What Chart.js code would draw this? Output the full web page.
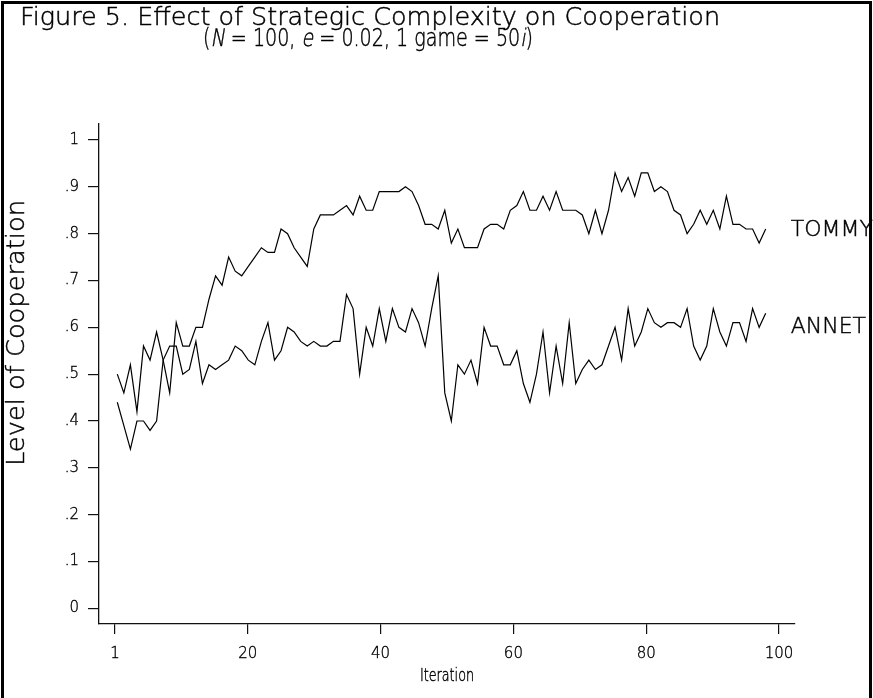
<!DOCTYPE html>
<html>
<head>
<meta charset="utf-8">
<title>Figure 5. Effect of Strategic Complexity on Cooperation</title>
<script src="https://cdn.jsdelivr.net/npm/chart.js@4.4.1/dist/chart.umd.min.js"></script>
<style>
  html, body { margin: 0; padding: 0; background: #fff; }
  #wrap { width: 873px; height: 698px; }
</style>
</head>
<body>
<div id="wrap"><canvas id="myChart" width="873" height="698"></canvas></div>
<script>
// iteration number of every point (1..100)
const iterations = Array.from({ length: 100 }, (_, i) => i + 1)

const tommy = [
  .50, .46, .52, .42, .56, .53, .59, .53, .46, .61,
  .56, .56, .60, .60, .66, .71, .69, .75, .72, .71,
  .73, .75, .77, .76, .76, .81, .80, .77, .75, .73,
  .81, .84, .84, .84, .85, .86, .84, .88, .85, .85,
  .89, .89, .89, .89, .90, .89, .86, .82, .82, .81,
  .85, .78, .81, .77, .77, .77, .81, .82, .82, .81,
  .85, .86, .89, .85, .85, .88, .85, .89, .85, .85,
  .85, .84, .80, .85, .80, .85, .93, .89, .92, .88,
  .93, .93, .89, .90, .89, .85, .84, .80, .82, .85,
  .82, .85, .81, .88, .82, .82, .81, .81, .78, .81
]

const annet = [
  .44, .39, .34, .40, .40, .38, .40, .53, .56, .56,
  .50, .51, .57, .48, .52, .51, .52, .53, .56, .55,
  .53, .52, .57, .61, .53, .55, .60, .59, .57, .56,
  .57, .56, .56, .57, .57, .67, .64, .50, .60, .56,
  .64, .57, .64, .60, .59, .64, .61, .56, .64, .71,
  .46, .40, .52, .50, .53, .48, .60, .56, .56, .52,
  .52, .55, .48, .44, .50, .59, .46, .56, .48, .61,
  .48, .51, .53, .51, .52, .56, .60, .53, .64, .56,
  .59, .64, .61, .60, .61, .61, .60, .64, .56, .53,
  .56, .64, .59, .56, .61, .61, .57, .64, .60, .63
]

const seriesNames = ['TOMMY', 'ANNET']

// x axis: equally spaced ticks, the first one printed as "1"
const xTickValues = [0, 20, 40, 60, 80, 100]
const xTickLabels = ['1', '20', '40', '60', '80', '100']
const yTickValues = [0, .1, .2, .3, .4, .5, .6, .7, .8, .9, 1]
const yTickLabels = ['0', '.1', '.2', '.3', '.4', '.5', '.6', '.7', '.8', '.9', '1']

const FONT = "'DejaVu Sans', 'Noto Sans', sans-serif"

const titleLine1 = [['Figure 5. Effect of Strategic Complexity on Cooperation', false]]
const titleLine2 = [['(', false], ['N', true], [' = 100, ', false], ['e', true],
  [' = 0.02, 1 game = 50', false], ['i', true], [')', false]]

// draws text pieces centred on cx, squeezed/stretched to the wanted width;
// italic pieces are slanted by hand so they keep the light weight
function drawRuns(ctx, runs, cx, y, size, width) {
  ctx.font = '200 ' + size + 'px ' + FONT
  let total = 0
  runs.forEach(r => { total += ctx.measureText(r[0]).width })
  const k = width / total
  ctx.save()
  ctx.translate(cx - width / 2, y)
  ctx.scale(k, 1)
  let x = 0
  runs.forEach(r => {
    ctx.save()
    if (r[1]) ctx.transform(1, 0, -0.21, 1, x, 0)
    else ctx.translate(x, 0)
    ctx.fillText(r[0], 0, 0)
    ctx.strokeText(r[0], 0, 0)
    ctx.restore()
    x += ctx.measureText(r[0]).width
  })
  ctx.restore()
}

const decorations = {
  id: 'decorations',
  afterDraw(chart, args, opts) {
    const ctx = chart.ctx
    const xs = chart.scales.x
    ctx.save()
    ctx.strokeStyle = '#000'
    ctx.lineWidth = 3
    ctx.strokeRect(2.5, 2.5, chart.width - 5, chart.height + 10)

    ctx.fillStyle = '#000'
    ctx.lineWidth = 0.45
    ctx.textAlign = 'left'
    ctx.textBaseline = 'alphabetic'
    drawRuns(ctx, titleLine1, 370, 25, 24, 700)
    drawRuns(ctx, titleLine2, 368, 46, 24, 330)

    // x axis title
    drawRuns(ctx, [['Iteration', false]], (xs.left + xs.right) / 2, 681, 17, 54)

    // y axis title, not centred on the axis in the original
    ctx.save()
    ctx.translate(18, 333)
    ctx.rotate(-Math.PI / 2)
    ctx.textBaseline = 'middle'
    drawRuns(ctx, [['Level of Cooperation', false]], 0, 0, 24, 266)
    ctx.restore()

    // series names at the right end of the lines
    const xd = chart.scales.xd
    const ys = chart.scales.y
    const lastX = xd.getPixelForValue(iterations[iterations.length - 1])
    ctx.font = '200 22px ' + FONT
    ctx.textBaseline = 'middle'
    opts.labels.forEach((lab, i) => {
      const y = ys.getPixelForValue(lab)
      ctx.fillText(seriesNames[i], lastX + 25, y)
      ctx.strokeText(seriesNames[i], lastX + 25, y)
    })
    ctx.restore()
  }
}

const lineStyle = {
  borderColor: '#000',
  borderWidth: 1.2,
  pointRadius: 0,
  tension: 0,
  fill: false,
  xAxisID: 'xd',
  yAxisID: 'y'
}

const data = {
  datasets: [
    Object.assign({ label: seriesNames[0], data: iterations.map((it, i) => ({ x: it, y: tommy[i] })) }, lineStyle),
    Object.assign({ label: seriesNames[1], data: iterations.map((it, i) => ({ x: it, y: annet[i] })) }, lineStyle)
  ]
}

const axisColor = '#111'

let myChart = new Chart(document.getElementById('myChart').getContext('2d'), {
  type: 'line',
  data: data,
  plugins: [decorations],
  options: {
    responsive: false,
    animation: false,
    layout: { padding: { left: 0, right: 78, top: 124, bottom: 0 } },
    plugins: {
      legend: { display: false },
      tooltip: { enabled: false },
      decorations: { labels: [0.807, 0.60] }
    },
    scales: {
      // scale that places the points (iteration 1 .. 100)
      xd: {
        type: 'linear',
        display: false,
        min: -1.794,
        max: 104.474
      },
      x: {
        type: 'linear',
        position: 'bottom',
        min: -2.41,
        max: 102.41,
        afterBuildTicks: s => { s.ticks = xTickValues.map(v => ({ value: v })) },
        afterFit: s => { s.height = 74 },
        ticks: {
          color: '#000',
          textStrokeColor: '#000',
          textStrokeWidth: 0.35,
          padding: 11,
          maxRotation: 0,
          autoSkip: false,
          font: { family: FONT, size: 15, weight: 200 },
          callback: (v) => xTickLabels[xTickValues.indexOf(v)]
        },
        grid: { drawOnChartArea: false, drawTicks: true, tickLength: 10, color: axisColor, lineWidth: 1.2 },
        border: { display: true, color: axisColor, width: 1.3 }
      },
      y: {
        type: 'linear',
        min: -0.0335,
        max: 1.0342,
        afterBuildTicks: s => { s.ticks = yTickValues.map(v => ({ value: v })) },
        afterFit: s => { s.width = 99 },
        ticks: {
          color: '#000',
          textStrokeColor: '#000',
          textStrokeWidth: 0.35,
          padding: 9,
          autoSkip: false,
          font: { family: FONT, size: 15, weight: 200 },
          callback: (v) => yTickLabels[yTickValues.findIndex(t => Math.abs(t - v) < 1e-9)]
        },
        grid: { drawOnChartArea: false, drawTicks: true, tickLength: 11, color: axisColor, lineWidth: 1.2 },
        border: { display: true, color: axisColor, width: 1.3 }
      }
    }
  }
})
</script>
</body>
</html>
